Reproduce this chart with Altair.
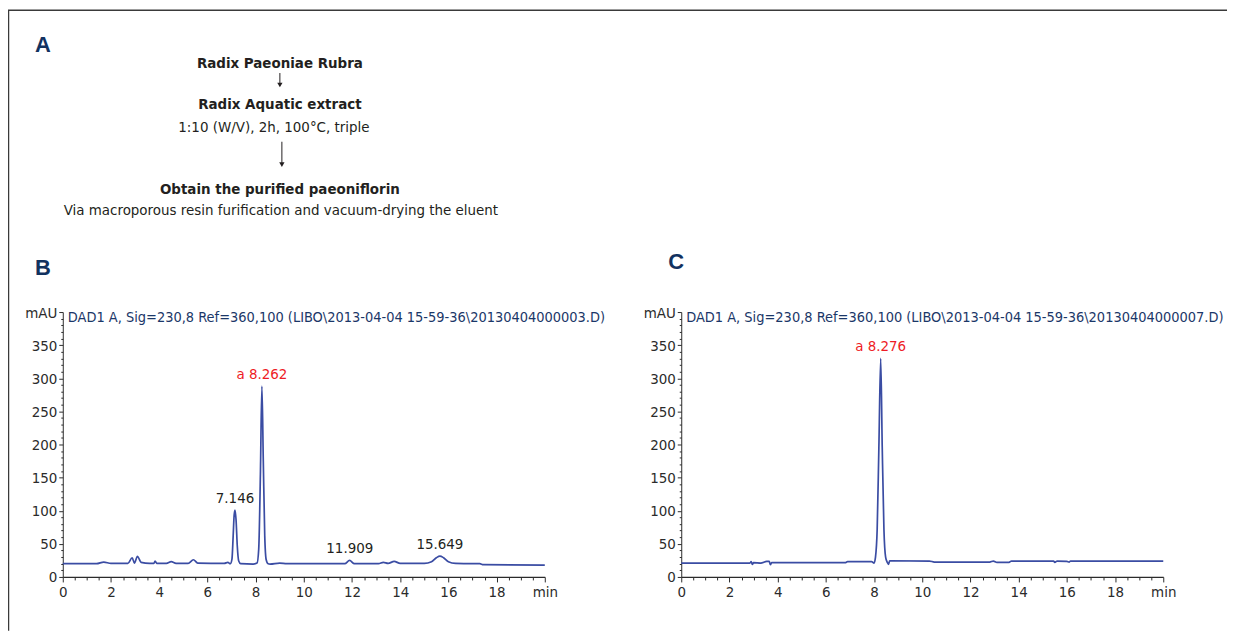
import altair as alt
import pandas as pd

# ---------------- data ----------------
b_time = [0, 1.4, 1.7, 2.0, 2.7, 2.88, 2.97, 3.1, 3.25, 3.6, 3.78, 3.83, 3.9, 4.3, 4.5, 4.7,
          5.2, 5.42, 5.6, 6.7, 6.85, 6.95, 7.02, 7.07, 7.11, 7.146, 7.19, 7.24, 7.3, 7.38,
          7.9, 8.06, 8.13, 8.2, 8.262, 8.32, 8.38, 8.44, 8.52, 8.6, 9.0, 9.3, 11.7, 11.9, 12.1,
          13.1, 13.3, 13.5, 13.75, 14.0, 15.0, 15.3, 15.5, 15.649, 15.8, 16.0, 16.3, 17.3, 17.45, 20.0]
b_mau = [20, 20, 22.5, 20.5, 20.5, 29, 21, 31, 22, 20.5, 20.5, 24, 20.5, 20.5, 23, 20.5,
         20.5, 26, 21, 20.5, 22, 20, 27, 62, 93, 101, 86, 47, 24, 20,
         19.5, 21, 42, 155, 288, 175, 62, 26, 20, 19.5, 21, 20, 20, 25, 20,
         20, 22, 20.5, 23.5, 20.5, 20.5, 23, 29, 31.5, 29, 23, 20.5, 20, 18.5, 18]

c_time = [0, 2.85, 2.9, 2.95, 3.0, 3.3, 3.55, 3.65, 3.7, 3.75, 6.8, 6.9, 7.9, 8.0, 8.06,
          8.13, 8.2, 8.276, 8.34, 8.41, 8.48, 8.55, 8.6, 8.65, 10.3, 10.5, 12.8, 12.95, 13.1,
          13.6, 13.7, 15.45, 15.5, 15.6, 16.0, 16.1, 16.15, 20.0]
c_mau = [21, 21, 23, 19, 21.5, 21, 23.5, 23.5, 18.5, 21.5, 21.5, 23, 23, 21, 30,
         72, 195, 330, 195, 72, 30, 22, 19, 24.5, 24, 22.5, 22.5, 24, 22,
         22, 24, 24, 22, 24, 23.5, 22.5, 24, 24]

b_peak_rt = [7.146, 8.262, 11.909, 15.649]
b_peak_h = [101, 288, 25, 31.5]
b_peak_label = ["7.146", "a 8.262", "11.909", "15.649"]

c_peak_rt = [8.276]
c_peak_h = [330]
c_peak_label = ["a 8.276"]

b_header = "DAD1 A, Sig=230,8 Ref=360,100 (LIBO\\2013-04-04 15-59-36\\20130404000003.D)"
c_header = "DAD1 A, Sig=230,8 Ref=360,100 (LIBO\\2013-04-04 15-59-36\\20130404000007.D)"

flow_lines = [
    ("Radix Paeoniae Rubra", "bold"),
    ("Radix Aquatic extract", "bold"),
    ("1:10 (W/V), 2h, 100°C, triple", "normal"),
    ("Obtain the purified paeoniflorin", "bold"),
    ("Via macroporous resin furification and vacuum-drying the eluent", "normal"),
]

x_ticks = [i * 0.5 for i in range(41)]
y_ticks = list(range(0, 401, 10))

# ---------------- style ----------------
COND = "DejaVu Sans Condensed"
BOLDF = "Liberation Sans"
NAVY = "#12325f"
HEAD = "#1b3768"
LINE = "#3a4ca3"
AX = "#2b2b2b"
RED = "#ee1c25"

PLOT_W = 484
C_LEFT = 621
H = 266

b_df = pd.DataFrame({"t": b_time, "v": b_mau})
c_df = pd.DataFrame({"t": c_time, "v": c_mau})
bp_df = pd.DataFrame({"t": b_peak_rt, "v": b_peak_h, "lab": b_peak_label})
cp_df = pd.DataFrame({"t": c_peak_rt, "v": c_peak_h, "lab": c_peak_label})
one = pd.DataFrame({"k": [0]})


def x_axis():
    return alt.Axis(
        orient="bottom", values=x_ticks, title=None, grid=False,
        labelExpr="datum.value % 2 == 0 ? (datum.value == 20 ? 'min' : format(datum.value, 'd')) : ''",
        labelFont=COND, labelFontSize=15, labelColor=AX, labelPadding=3,
        domainColor=AX, domainWidth=1.2, tickColor=AX, tickWidth=1,
        tickSize={"condition": {"test": "datum.value % 2 == 0", "value": 5}, "value": 3},
        labelFlush=False, labelOverlap=False, labelBound=False,
    )


def y_axis(offset):
    return alt.Axis(
        orient="left", offset=offset, values=y_ticks, title=None, grid=False,
        labelExpr="datum.value == 400 ? 'mAU' : (datum.value % 50 == 0 ? format(datum.value, 'd') : '')",
        labelFont=COND, labelFontSize=15, labelColor=AX, labelPadding=2,
        domainColor=AX, domainWidth=1, tickColor=AX, tickWidth=1,
        tickSize={"condition": {"test": "datum.value % 50 == 0", "value": 4}, "value": 2},
        labelFlush=False, labelOverlap=False, labelBound=False,
    )


def panel(df, pk, header, left, letter, letter_xy):
    xs = alt.Scale(domain=[0, 20], range=[left, left + PLOT_W], nice=False, zero=False)
    ys = alt.Scale(domain=[0, 400], nice=False)
    xenc = alt.X("t:Q", scale=xs, axis=x_axis())
    yenc = alt.Y("v:Q", scale=ys, axis=y_axis(-left if left else 0))
    line = alt.Chart(df).mark_line(color=LINE, strokeWidth=1.7, interpolate="monotone").encode(
        x=xenc, y=yenc,
    )
    labels = alt.Chart(pk).mark_text(
        font=COND, fontSize=15, baseline="bottom", dy=-4
    ).encode(
        x=xenc, y=yenc,
        text="lab:N",
        color=alt.condition("indexof(datum.lab, 'a ') == 0", alt.value(RED), alt.value("#231f20")),
    )
    head = alt.Chart(one).mark_text(
        font=COND, fontSize=14.5, color=HEAD, align="left", baseline="middle"
    ).encode(x=alt.value(left + 5), y=alt.value(6), text=alt.value(header))
    let = alt.Chart(one).mark_text(
        font=BOLDF, fontSize=22, fontWeight="bold", color=NAVY, align="left", baseline="middle"
    ).encode(x=alt.value(letter_xy[0]), y=alt.value(letter_xy[1]), text=alt.value(letter))
    return alt.layer(line, labels, head, let)


# ---------------- panel A (flow chart) ----------------
flow_pos = [(218, -250), (218, -209), (212, -186), (218, -124), (219, -102)]
flow_layers = []
for (txt, wt), (px, py) in zip(flow_lines, flow_pos):
    flow_layers.append(
        alt.Chart(one).mark_text(font=COND, fontSize=15, fontWeight=wt, color="#231f20",
                                 align="center", baseline="middle")
        .encode(x=alt.value(px), y=alt.value(py), text=alt.value(txt))
    )

arrow1 = alt.Chart(one).mark_rule(color="#231f20", strokeWidth=1).encode(
    x=alt.value(218), y=alt.value(-240), y2=alt.value(-228))
head1 = alt.Chart(one).mark_point(shape="triangle-down", filled=True, color="#231f20", size=28, opacity=1).encode(
    x=alt.value(218), y=alt.value(-228))
arrow2 = alt.Chart(one).mark_rule(color="#231f20", strokeWidth=1).encode(
    x=alt.value(220), y=alt.value(-171), y2=alt.value(-148))
head2 = alt.Chart(one).mark_point(shape="triangle-down", filled=True, color="#231f20", size=28, opacity=1).encode(
    x=alt.value(220), y=alt.value(-148))
letterA = alt.Chart(one).mark_text(
    font=BOLDF, fontSize=22, fontWeight="bold", color=NAVY, align="left", baseline="middle"
).encode(x=alt.value(-28), y=alt.value(-268), text=alt.value("A"))

border_top = alt.Chart(one).mark_rule(color="#3a3a3a", strokeWidth=1.5).encode(
    x=alt.value(-56), x2=alt.value(1170), y=alt.value(-303))
border_left = alt.Chart(one).mark_rule(color="#3a3a3a", strokeWidth=1.5).encode(
    x=alt.value(-54.5), y=alt.value(-303), y2=alt.value(320))

panelB = panel(b_df, bp_df, b_header, 0, "B", (-28, -44))
panelC = panel(c_df, cp_df, c_header, C_LEFT, "C", (C_LEFT - 13, -50))

chart = alt.layer(
    border_top, border_left, letterA, *flow_layers, arrow1, head1, arrow2, head2,
    panelB, panelC,
).resolve_scale(x="independent", y="independent").properties(
    width=1105, height=H,
    background="white",
    autosize=alt.AutoSizeParams(type="none"),
    padding={"left": 55, "top": 304, "right": 64, "bottom": 56},
).configure_view(strokeWidth=0, stroke="transparent")

chart.save("out.html", embed_options={"renderer": "svg", "actions": False})
